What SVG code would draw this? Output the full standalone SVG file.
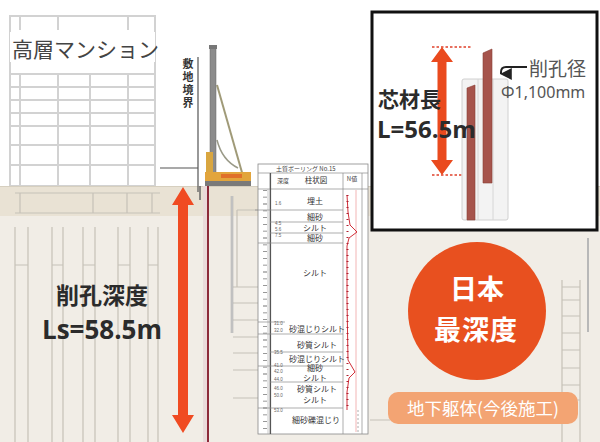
<svg xmlns="http://www.w3.org/2000/svg" width="600" height="442" viewBox="0 0 600 442">
  <style>
    .jp { font-family: "Noto Sans CJK JP", "Noto Sans", sans-serif; }
    .bldg { fill: none; stroke: #d2d2d2; stroke-width: 2; }
    .wall { fill: none; stroke: #c6c1b7; stroke-width: 1.2; }
    .layer { stroke: #8a8a8a; stroke-width: 0.7; }
    .soil { font-family: "Noto Sans CJK JP", sans-serif; font-size: 8px; fill: #333; text-anchor: middle; }
    .depth { font-family: "Liberation Sans", sans-serif; font-size: 4.5px; fill: #666; }
    .big { font-family: "Noto Sans CJK JP", "Noto Sans", sans-serif; font-weight: 700; fill: #2b2b2b; }
    .num { font-family: "Open Sans", "Noto Sans", sans-serif; font-weight: 700; fill: #2b2b2b; }
    .badge-text { font-family: "Noto Sans CJK JP", sans-serif; font-size: 27px; font-weight: 700; fill: #ffffff; text-anchor: middle; }
  </style>
  <defs>
    <marker id="tip" viewBox="0 0 10 10" refX="5" refY="9" markerWidth="6" markerHeight="6" orient="auto">
      <path d="M0,0 L10,0 L5,10 Z" fill="#222"/>
    </marker>
  </defs>

  <!-- sky / background -->
  <rect width="600" height="442" fill="#ffffff"/>

  <!-- neighbouring high-rise building -->
  <g id="building">
    <rect x="10" y="16" width="145" height="170" fill="#fbfbfb" class="bldg"/>
    <path class="bldg" d="M10,74H155 M10,87H155 M10,100H155 M10,113H155 M10,126H155 M10,145H155 M10,165H155"/>
    <path class="bldg" d="M20,16V30 M58,16V30 M128,16V30 M20,74V186 M58,74V186 M90,74V186 M128,74V186"/>
    <rect x="10" y="32" width="145" height="30" fill="#ffffff"/>
    <text x="12" y="57" class="jp" font-size="21" fill="#444">高層マンション</text>
  </g>

  <!-- ground -->
  <g id="ground">
    <rect x="0" y="186" width="600" height="256" fill="#f1ede6"/>
    <rect x="0" y="186" width="600" height="30" fill="#e9e2d4"/>
    <line x1="0" y1="186.5" x2="600" y2="186.5" stroke="#d6cfbf" stroke-width="1"/>
    <!-- existing basement frame, left -->
    <path class="wall" d="M15,193H160 M15,213H160 M20,193V213 M93,193V213 M127,193V213 M152,193V213"/>
    <path class="wall" d="M15,227V442 M28,227V442 M52,227V442 M63,227V442 M83,227V442 M95,227V442 M118,227V442 M130,227V442 M148,227V442 M158,227V442"/>
    <path class="wall" d="M15,265H28 M52,265H63 M83,265H95 M118,265H130 M148,265H158"/>
    <!-- basement frame between rig and log -->
    <path class="wall" d="M237,210H258 M237,210V287 M233,287H258 M233,303H258 M233,320H258 M233,337H258 M233,353H258 M233,370H258 M233,398H258"/>
    <line x1="232" y1="196" x2="232" y2="333" stroke="#a8a8a8" stroke-width="2.5"/>
    <line x1="232" y1="196" x2="232" y2="333" stroke="#e6e6e6" stroke-width="0.8"/>
    <!-- basement frame, right -->
    <line x1="588" y1="238" x2="588" y2="332" stroke="#b8b8b8" stroke-width="2"/>
    <path class="wall" d="M562,280V442 M580,280V442 M562,287H580 M562,300H580 M562,316H580 M562,333H580 M562,350H580 M562,368H580 M562,385H580 M562,400H580 M370,420H390"/>
  </g>

  <!-- site boundary -->
  <g id="boundary">
    <path d="M160,168H198 M198,57V192" fill="none" stroke="#555" stroke-width="1.2"/>
    <text x="188" y="58" class="jp" font-size="11" font-weight="700" fill="#333" writing-mode="vertical-rl" letter-spacing="2">敷地境界</text>
  </g>

  <!-- drilling rig -->
  <g id="rig">
    <line x1="217" y1="85" x2="243" y2="176" stroke="#a09a78" stroke-width="2"/>
    <path d="M217,140 Q222,160 238,168" fill="none" stroke="#9a9a88" stroke-width="1.5"/>
    <rect x="210" y="48" width="6" height="132" fill="#8c8c8c" stroke="#666" stroke-width="0.5"/>
    <rect x="209" y="45" width="8" height="4" fill="#777"/>
    <rect x="206" y="152" width="7" height="26" fill="#d9a640"/>
    <rect x="205" y="172" width="46" height="9" fill="#e2a53c"/>
    <rect x="221" y="174" width="21" height="4" fill="#e0702a"/>
    <rect x="205" y="181" width="46" height="5" fill="#7a7a7a"/>
  </g>

  <!-- borehole and drilling depth arrow -->
  <g id="borehole">
    <rect x="203" y="186" width="6" height="256" fill="#eadada"/>
    <line x1="208" y1="186" x2="208" y2="442" stroke="#8d2a3a" stroke-width="2"/>
    <line x1="200" y1="186" x2="200" y2="200" stroke="#666" stroke-width="1.5"/>
    <path d="M183,187 L194,205 L188,205 L188,415 L194,415 L183,433 L172,415 L178,415 L178,205 L172,205 Z" fill="#f04b22"/>
    <text x="102" y="304" class="big" font-size="23" text-anchor="middle">削孔深度</text>
    <text x="102" y="339" class="num" font-size="26" text-anchor="middle">Ls=58.5m</text>
  </g>

  <!-- boring log -->
  <g id="boring-log">
    <rect x="258" y="164" width="110" height="270" fill="#ffffff" stroke="#888" stroke-width="0.8"/>
    <path class="layer" d="M258,173H368 M258,189H368 M270,173V434 M343,173V434 M362,173V434"/>
    <line x1="270.5" y1="173" x2="270.5" y2="434" stroke="#555" stroke-width="1.2"/>
    <line x1="265" y1="190" x2="265" y2="432" stroke="#777" stroke-width="4" stroke-dasharray="0.8 6"/>
    <line x1="268" y1="189" x2="268" y2="434" stroke="#aaa" stroke-width="0.6"/>
    <text x="276" y="171" class="jp" font-size="6" fill="#444">土質ボーリング No.15</text>
    <text x="277" y="183" class="jp" font-size="6" fill="#444">深度</text>
    <text x="316" y="183" class="jp" font-size="7.5" fill="#333" text-anchor="middle">柱状図</text>
    <text x="352" y="181" class="jp" font-size="6" fill="#444" text-anchor="middle">N値</text>
    <path class="layer" d="M255,210H343 M270,222H343 M270,233H343 M258,243H343 M258,322H285 M258,334H343 M270,352H343 M258,366H343 M270,382H343 M258,408H343"/>
    <text x="315" y="204" class="soil">埋土</text>
    <text x="315" y="220" class="soil">細砂</text>
    <text x="315" y="231" class="soil">シルト</text>
    <text x="315" y="241" class="soil">細砂</text>
    <text x="315" y="276" class="soil" font-size="9">シルト</text>
    <text x="317" y="332" class="soil" font-size="7.5">砂混じりシルト</text>
    <text x="317" y="348" class="soil" font-size="7.5">砂質シルト</text>
    <text x="317" y="361.5" class="soil" font-size="7.5">砂混じりシルト</text>
    <text x="315" y="371" class="soil" font-size="6">細砂</text>
    <text x="315" y="380.5" class="soil" font-size="6.5">シルト</text>
    <text x="317" y="391.5" class="soil" font-size="7.5">砂質シルト</text>
    <text x="315" y="403" class="soil" font-size="7.5">シルト</text>
    <text x="316" y="423" class="soil" font-size="7.5">細砂礫混じり</text>
    <text x="275" y="205" class="depth">1.6</text>
    <text x="275" y="225" class="depth">4.5</text>
    <text x="275" y="231" class="depth">5.6</text>
    <text x="275" y="237" class="depth">7.5</text>
    <text x="274" y="325" class="depth">31.0</text>
    <text x="274" y="332" class="depth">32.0</text>
    <text x="274" y="354" class="depth">35.5</text>
    <text x="274" y="367" class="depth">41.0</text>
    <text x="274" y="373" class="depth">42.0</text>
    <text x="274" y="381" class="depth">44.0</text>
    <text x="274" y="390" class="depth">46.0</text>
    <text x="274" y="397" class="depth">50.0</text>
    <text x="274" y="412" class="depth">53.0</text>
    <!-- N-value trace -->
    <line x1="356" y1="190" x2="356" y2="432" stroke="#f2b5b5" stroke-width="1"/>
    <line x1="358" y1="410" x2="358" y2="432" stroke="#999" stroke-width="0.8" stroke-dasharray="2 2"/>
    <polyline points="347,195 348,212 350,225 357,232 349,238 347,246 347,300 348,360 355,372 349,378 347,392 347,410" fill="none" stroke="#d2303a" stroke-width="1"/>
    <line x1="347.5" y1="195" x2="347.5" y2="410" stroke="#b02030" stroke-width="2" stroke-dasharray="1 5"/>
  </g>

  <!-- badge -->
  <g id="badge">
    <circle cx="477" cy="311" r="69" fill="#e8501f"/>
    <text x="477" y="299" class="badge-text">日本</text>
    <text x="476" y="340" class="badge-text" letter-spacing="1">最深度</text>
  </g>

  <!-- future underground structure label -->
  <g id="future-label">
    <rect x="388" y="392" width="190" height="32" rx="10" fill="#f3a473"/>
    <text x="483" y="415" class="jp" font-size="17.5" fill="#ffffff" text-anchor="middle">地下躯体(今後施工)</text>
  </g>

  <!-- core material inset -->
  <g id="core-inset">
    <rect x="372" y="12" width="225" height="218" fill="#ffffff" stroke="#111" stroke-width="3"/>
    <path d="M432,47H472 M432,175H465" stroke="#e0402a" stroke-width="1.6" stroke-dasharray="2.5 2"/>
    <path d="M442,47 L453,62 L446.5,62 L446.5,160 L453,160 L442,175 L431,160 L437.5,160 L437.5,62 L431,62 Z" fill="#ea4a1e"/>
    <rect x="462" y="79" width="46" height="141" rx="2" fill="#f3f3f3" stroke="#d0d0d0" stroke-width="1"/>
    <path d="M478,79V220 M493,79V220" stroke="#d6d6d6" stroke-width="1"/>
    <path d="M467,88 L475,85 L475,220 L467,220 Z" fill="#a6544c" stroke="#8c3f38" stroke-width="0.6"/>
    <path d="M483,53 L492,49 L492,183 L483,183 Z" fill="#a6544c" stroke="#8c3f38" stroke-width="0.6"/>
    <text x="378" y="107" class="big" font-size="21">芯材長</text>
    <text x="377" y="138" class="num" font-size="24">L=56.5m</text>
    <path d="M527,67 H506 Q501,67 501,72 V74" fill="none" stroke="#222" stroke-width="2" marker-end="url(#tip)"/>
    <text x="529" y="76" class="jp" font-size="19" fill="#555">削孔径</text>
    <text x="501" y="98" font-family="Noto Sans, Open Sans, sans-serif" font-size="16" fill="#555">Φ1,100mm</text>
  </g>
</svg>
